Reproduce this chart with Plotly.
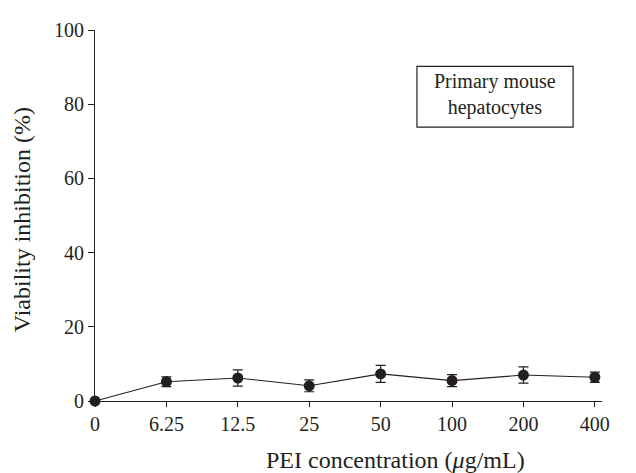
import plotly.graph_objects as go

categories = ["0", "6.25", "12.5", "25", "50", "100", "200", "400"]
inhibition = [0.0, 5.2, 6.2, 4.1, 7.3, 5.5, 7.0, 6.4]
errors = [0.0, 1.3, 2.2, 1.6, 2.3, 1.6, 2.2, 1.4]
y_ticks = [0, 20, 40, 60, 80, 100]
box_text = "Primary mouse<br>hepatocytes"

positions = list(range(len(categories)))
ink = "#231f20"
font_family = "Liberation Serif"

fig = go.Figure()
fig.add_trace(go.Scatter(
    x=positions,
    y=inhibition,
    mode="lines+markers",
    line=dict(color=ink, width=1.1),
    marker=dict(color=ink, size=11, symbol="circle"),
    error_y=dict(type="data", array=errors, visible=True, color=ink, thickness=1.2, width=5),
    showlegend=False,
    cliponaxis=False,
))

annotations = [
    dict(text="PEI concentration (<i>μ</i>g/mL)", xref="paper", yref="paper",
         x=0.592, y=-0.159, xanchor="center", yanchor="middle", showarrow=False,
         font=dict(family=font_family, size=24, color=ink)),
    dict(text="Viability inhibition (%)", xref="paper", yref="paper",
         x=-0.144, y=0.49, xanchor="center", yanchor="middle", showarrow=False,
         textangle=-90, font=dict(family=font_family, size=24, color=ink)),
    dict(text=box_text, xref="paper", yref="paper",
         x=0.789, y=0.825, xanchor="center", yanchor="middle", showarrow=False,
         align="center", font=dict(family=font_family, size=20, color=ink)),
]

fig.update_layout(
    width=636,
    height=473,
    margin=dict(l=87, r=42, t=11, b=80),
    paper_bgcolor="white",
    plot_bgcolor="white",
    font=dict(family=font_family, size=20, color=ink),
    xaxis=dict(
        range=[0, 7.1],
        tickmode="array",
        tickvals=positions,
        ticktext=categories,
        showline=True,
        linecolor=ink,
        linewidth=1,
        ticks="outside",
        ticklen=5,
        tickcolor=ink,
        showgrid=False,
        zeroline=False,
        tickfont=dict(size=20),
    ),
    yaxis=dict(
        range=[0, 100],
        tickmode="array",
        tickvals=y_ticks,
        showline=True,
        linecolor=ink,
        linewidth=1,
        ticks="outside",
        ticklen=6,
        tickcolor=ink,
        showgrid=False,
        zeroline=False,
        tickfont=dict(size=20),
    ),
    shapes=[dict(
        type="rect", xref="paper", yref="paper",
        x0=0.635, x1=0.943, y0=0.738, y1=0.902,
        line=dict(color=ink, width=1.2), fillcolor="white", layer="below",
    )],
    annotations=annotations,
)

fig.write_html("out.html")
